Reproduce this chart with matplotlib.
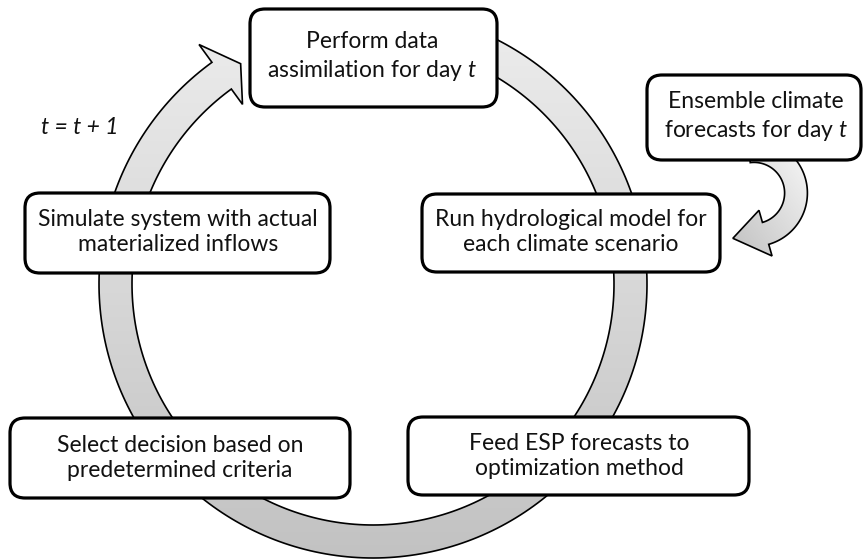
import numpy as np
import matplotlib.pyplot as plt
from matplotlib.patches import Polygon, FancyBboxPatch
from matplotlib.colors import LinearSegmentedColormap

plt.rcParams['font.family'] = ['Lato', 'DejaVu Sans']
plt.rcParams['mathtext.fontset'] = 'custom'
plt.rcParams['mathtext.it'] = 'Lato:italic'
plt.rcParams['mathtext.rm'] = 'Lato'

W, H = 864, 560

# step boxes: label, (x0, y0, x1, y1) in pixels, text centre
labels = [
    "Perform data\nassimilation for day $t$",
    "Ensemble climate\nforecasts for day $t$",
    "Run hydrological model for\neach climate scenario",
    "Simulate system with actual\nmaterialized inflows",
    "Select decision based on\npredetermined criteria",
    "Feed ESP forecasts to\noptimization method",
]
boxes = [
    (250, 9, 497, 107),
    (647, 75, 861, 160),
    (422, 194, 720, 272),
    (25, 193, 330, 273),
    (10, 418, 350, 498),
    (408, 417, 749, 495),
]
text_xy = [(372, 57), (756, 117), (571, 232), (178, 232), (180, 458), (579, 456)]
loop_label = "t = t + 1"


def arc_arrow(cx, cy, r_in, r_out, a0, a1, head_in, head_out, tip_a, tip_r, n=300):
    a = np.radians(np.linspace(a0, a1, n))
    outer = np.c_[cx + r_out * np.cos(a), cy - r_out * np.sin(a)]
    inner = np.c_[cx + r_in * np.cos(a), cy - r_in * np.sin(a)]
    ae = a[-1]
    wo = [cx + head_out * np.cos(ae), cy - head_out * np.sin(ae)]
    wi = [cx + head_in * np.cos(ae), cy - head_in * np.sin(ae)]
    ta = np.radians(tip_a)
    tip = [cx + tip_r * np.cos(ta), cy - tip_r * np.sin(ta)]
    return np.vstack([outer, [wo], [tip], [wi], inner[::-1]])


def gradient_fill(ax, pts, c1, c2, extent, diagonal=False):
    cmap = LinearSegmentedColormap.from_list('g', [c1, c2])
    yy, xx = np.mgrid[0:1:200j, 0:1:200j]
    g = (yy + (1 - xx)) / 2 if diagonal else yy
    im = ax.imshow(g, cmap=cmap, extent=extent, origin='upper',
                   aspect='auto', zorder=1, interpolation='bilinear')
    poly = Polygon(pts, closed=True, fc='none', ec='black', lw=1.2, zorder=2)
    ax.add_patch(poly)
    im.set_clip_path(poly)


fig = plt.figure(figsize=(W / 100, H / 100), dpi=100)
ax = fig.add_axes([0, 0, 1, 1])

# main cycle arrow
ring = arc_arrow(373, 284, 241, 274, 100, -234, 222, 296, -239, 257)
gradient_fill(ax, ring, '#eeeeee', '#c2c2c2', (0, W, 560, 0))

# small curved arrow from the ensemble forecasts
small = arc_arrow(754, 193, 30.6, 53.4, 97, -74, 18, 65.5, -115, 50)
gradient_fill(ax, small, '#fafafa', '#bdbdbd', (725, 810, 262, 140), diagonal=True)

for lab, (x0, y0, x1, y1), (tx, ty) in zip(labels, boxes, text_xy):
    ax.add_patch(FancyBboxPatch((x0, y0), x1 - x0, y1 - y0,
                                boxstyle="round,pad=0,rounding_size=15",
                                fc='white', ec='black', lw=2.3, zorder=3))
    ax.text(tx, ty, lab, ha='center', va='center', fontsize=16.5,
            linespacing=1.27, color='#111111', zorder=4)

ax.text(80, 127, loop_label, ha='center', va='center', fontsize=16.5,
        fontstyle='italic', color='#111111')

ax.set_xlim(0, W)
ax.set_ylim(H, 0)
ax.axis('off')

fig.savefig('out.png', dpi=100)
